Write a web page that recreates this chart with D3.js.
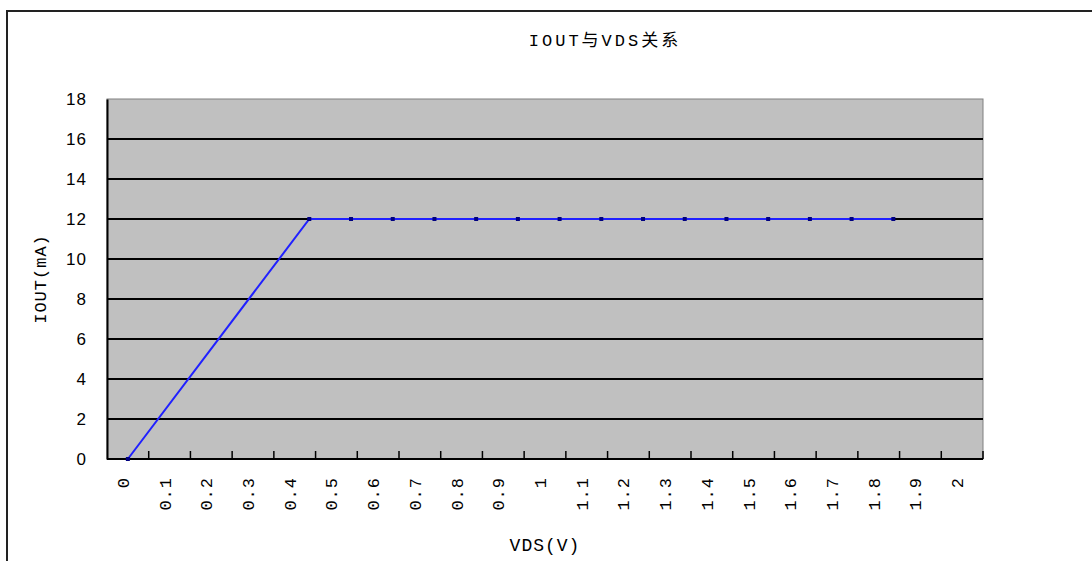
<!DOCTYPE html>
<html>
<head>
<meta charset="utf-8">
<script src="https://cdn.jsdelivr.net/npm/d3@7"></script>
<style>
body { margin: 0; background: #fff; }
.tick text { fill: #000; }
</style>
</head>
<body>
<script>
// category labels on the x axis
var xLabels = ['0','0.1','0.2','0.3','0.4','0.5','0.6','0.7','0.8','0.9','1',
               '1.1','1.2','1.3','1.4','1.5','1.6','1.7','1.8','1.9','2'];
var yTicks = [0,2,4,6,8,10,12,14,16,18];
// measured series
var vds  = [0, 0.435, 0.535, 0.635, 0.735, 0.835, 0.935, 1.035, 1.135, 1.235, 1.335, 1.435, 1.535, 1.635, 1.735, 1.835];
var iout = [0, 12, 12, 12, 12, 12, 12, 12, 12, 12, 12, 12, 12, 12, 12, 12];

var mono = '"Liberation Mono", "Noto Sans CJK SC", monospace';

var svg = d3.select('body').append('svg')
      .attr('width', 1092)
      .attr('height', 561);

// chart area border
svg.append('rect')
    .attr('x', 7).attr('y', 11)
    .attr('width', 1120).attr('height', 600)
    .attr('fill', '#fff')
    .attr('stroke', '#222')
    .attr('stroke-width', 2);

var pLeft = 107, pRight = 983, pTop = 99, pBottom = 459;

var xBand = d3.scaleBand().domain(xLabels).range([pLeft, pRight]).padding(0);
var bw = xBand.bandwidth();
var x = d3.scaleLinear().domain([0, 2])
    .range([xBand('0') + bw / 2, xBand('2') + bw / 2]);
var y = d3.scaleLinear().domain([0, 18]).range([pBottom, pTop]);

// plot area
svg.append('rect')
    .attr('x', pLeft).attr('y', pTop)
    .attr('width', pRight - pLeft).attr('height', pBottom - pTop)
    .attr('fill', '#c0c0c0')
    .attr('stroke', '#808080')
    .attr('stroke-width', 1);

// gridlines
svg.selectAll('.grid')
    .data(yTicks.filter(function(d) { return d > 0 && d < 18; }))
  .enter().append('line')
    .attr('class', 'grid')
    .attr('x1', pLeft).attr('x2', pRight)
    .attr('y1', function(d) { return y(d); })
    .attr('y2', function(d) { return y(d); })
    .attr('stroke', '#000')
    .attr('stroke-width', 2);

// y axis
var yAxis = svg.append('g')
    .attr('transform', 'translate(' + pLeft + ',0)')
    .call(d3.axisLeft(y).tickValues(yTicks).tickSize(0).tickPadding(20));
yAxis.select('.domain').attr('stroke', '#000').attr('stroke-width', 2);
yAxis.selectAll('text')
    .attr('font-family', '"Liberation Sans", Arial, sans-serif')
    .attr('font-size', 17)
    .attr('letter-spacing', 1);

// x axis: ticks between categories
var xAxis = svg.append('g')
    .attr('transform', 'translate(0,' + pBottom + ')');
xAxis.append('line')
    .attr('x1', pLeft).attr('x2', pRight)
    .attr('y1', 0).attr('y2', 0)
    .attr('stroke', '#000').attr('stroke-width', 2);
xAxis.selectAll('.xt')
    .data(xLabels)
  .enter().append('line')
    .attr('class', 'xt')
    .attr('x1', function(d) { return xBand(d) + bw; })
    .attr('x2', function(d) { return xBand(d) + bw; })
    .attr('y1', 0).attr('y2', -8)
    .attr('stroke', '#000').attr('stroke-width', 1.5);
xAxis.selectAll('.xl')
    .data(xLabels)
  .enter().append('text')
    .attr('class', 'xl')
    .attr('transform', function(d) {
        return 'translate(' + (xBand(d) + bw / 2 - 5) + ',18) rotate(-90)';
    })
    .attr('dy', '0.35em')
    .attr('text-anchor', 'end')
    .attr('font-family', mono)
    .attr('font-size', 17)
    .attr('letter-spacing', 1)
    .text(function(d) { return d; });

// series line
var line = d3.line()
    .x(function(d, i) { return x(vds[i]); })
    .y(function(d) { return y(d); });

svg.append('path')
    .datum(iout)
    .attr('d', line)
    .attr('fill', 'none')
    .attr('stroke', '#2020ff')
    .attr('stroke-width', 2);

svg.selectAll('.mk')
    .data(iout)
  .enter().append('rect')
    .attr('class', 'mk')
    .attr('x', function(d, i) { return x(vds[i]) - 2; })
    .attr('y', function(d) { return y(d) - 2; })
    .attr('width', 4).attr('height', 4)
    .attr('fill', '#000080');

// titles
svg.append('text')
    .attr('x', 605).attr('y', 46)
    .attr('text-anchor', 'middle')
    .attr('font-family', mono)
    .attr('font-size', 17)
    .attr('letter-spacing', 3)
    .text('IOUT与VDS关系');

svg.append('text')
    .attr('x', (pLeft + pRight) / 2).attr('y', 551)
    .attr('text-anchor', 'middle')
    .attr('font-family', mono)
    .attr('font-size', 18)
    .attr('letter-spacing', 1)
    .text('VDS(V)');

svg.append('text')
    .attr('transform', 'translate(40,' + ((pTop + pBottom) / 2) + ') rotate(-90)')
    .attr('dy', '0.35em')
    .attr('text-anchor', 'middle')
    .attr('font-family', mono)
    .attr('font-size', 17)
    .attr('letter-spacing', 1)
    .text('IOUT(mA)');
</script>
</body>
</html>
